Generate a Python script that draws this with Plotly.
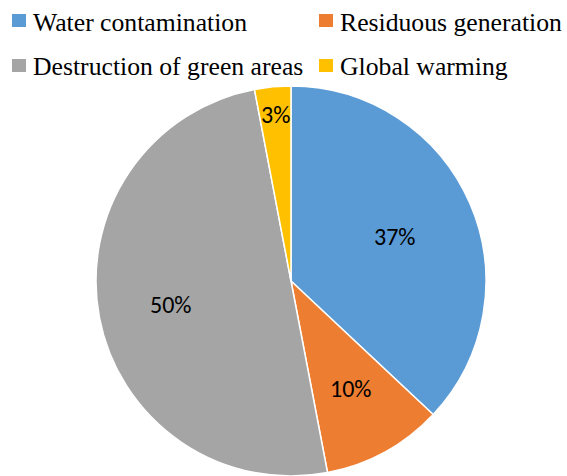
import math
import plotly.graph_objects as go

labels = ["Water contamination", "Residuous generation", "Destruction of green areas", "Global warming"]
values = [37, 10, 50, 3]
colors = ["#5B9BD5", "#ED7D31", "#A5A5A5", "#FFC000"]
label_radius = [0.58, 0.63, 0.63, 0.86]  # fraction of pie radius where % labels sit

W, H = 567, 476

def px(x):
    return x / W

def py(y):
    return 1 - y / H

# pie geometry (pixels in the figure)
pie_top = 86
R = (H - pie_top) / 2
CX, CY = 291, pie_top + R

fig = go.Figure()
fig.add_trace(go.Pie(
    labels=labels,
    values=values,
    sort=False,
    direction="clockwise",
    rotation=0,
    marker=dict(colors=colors, line=dict(color="white", width=1.5)),
    textinfo="none",
    domain=dict(x=[px(CX - R), px(CX + R)], y=[0, py(pie_top)]),
    showlegend=False,
    hoverinfo="label+percent",
))

annotations = []
total = sum(values)
cum = 0
for i, v in enumerate(values):
    mid = (cum + v / 2) / total * 2 * math.pi
    cum += v
    r = label_radius[i] * R
    x = CX + r * math.sin(mid)
    y = CY - r * math.cos(mid)
    annotations.append(dict(text=f"{round(v / total * 100)}%", xref="paper", yref="paper",
                            x=px(x), y=py(y), xanchor="center", yanchor="middle",
                            showarrow=False,
                            font=dict(family="Carlito, Lato, sans-serif", size=24, color="black")))

# manual legend laid out in two columns / two rows
col_x = [12, 319]
row_y = [20.5, 65.5]
shapes = []
for i, lab in enumerate(labels):
    cx = col_x[i % 2]
    cy = row_y[i // 2]
    shapes.append(dict(type="rect", xref="paper", yref="paper",
                       x0=px(cx), x1=px(cx + 14), y0=py(cy - 6.5), y1=py(cy + 6.5),
                       fillcolor=colors[i], line=dict(width=0)))
    annotations.append(dict(text=lab, xref="paper", yref="paper",
                            x=px(cx + 19), y=py(cy + 1.5), xanchor="left", yanchor="middle",
                            showarrow=False,
                            font=dict(family="Times New Roman, Liberation Serif, serif", size=25.7, color="black")))

fig.update_layout(
    width=W, height=H,
    margin=dict(l=0, r=0, t=0, b=0),
    paper_bgcolor="white",
    plot_bgcolor="white",
    shapes=shapes,
    annotations=annotations,
)

fig.write_html("out.html", config={"displayModeBar": False},
               post_script="document.body.style.margin='0';")
